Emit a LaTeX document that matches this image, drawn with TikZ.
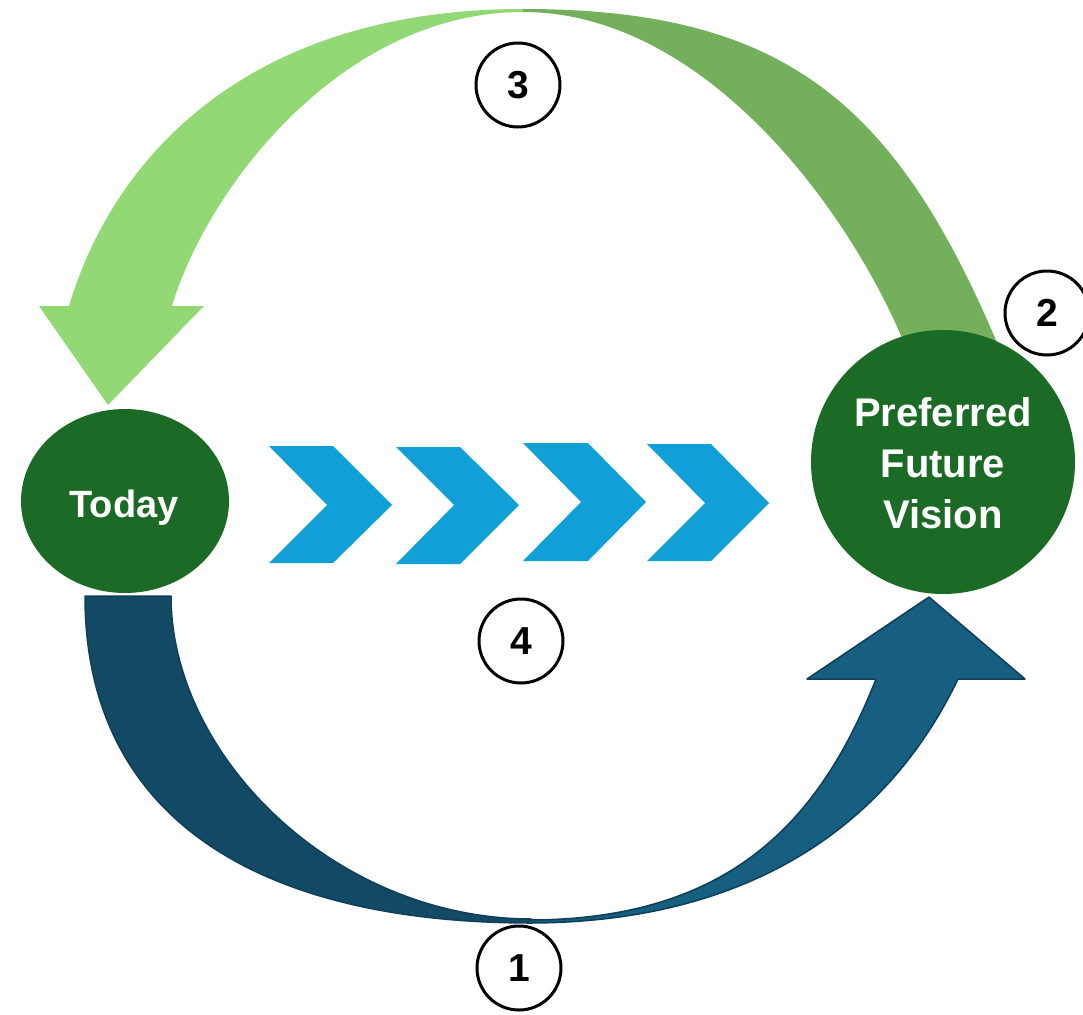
\documentclass[tikz,border=0pt]{standalone}
\usepackage{fontspec}
\setmainfont{Liberation Sans}
\usetikzlibrary{shapes.geometric}
\definecolor{lgreen}{RGB}{146,217,117}
\definecolor{mgreen}{RGB}{116,175,92}
\definecolor{dgreen}{RGB}{27,106,37}
\definecolor{bleft}{RGB}{18,74,102}
\definecolor{bright}{RGB}{23,95,128}
\definecolor{bline}{RGB}{14,62,88}
\definecolor{chev}{RGB}{17,159,215}
\begin{document}
\begin{tikzpicture}[x=1pt,y=-1pt,
  numcircle/.style={circle, draw=black, line width=3pt, fill=white, minimum size=84pt, inner sep=0pt,
    font=\bfseries\fontsize{39}{40}\selectfont},
  bluepart/.style={draw=bline, line width=1.5pt, line join=round},
  chevron/.style={fill=chev}]
\useasboundingbox (0,0) rectangle (1083,1014);
\clip (0,0) rectangle (1083,1014);

% green return arrow (3)
\fill[lgreen] (523,9) .. controls (253,9) and (115,152) .. (69,306) -- (39,306) -- (108,405) -- (204,306) -- (172,306)
  .. controls (208,186) and (343,12) .. (523,12) -- cycle;
\fill[mgreen] (523,9) .. controls (783,9) and (895,101) .. (998,345) -- (1000,372) -- (905,372) -- (905,345)
  .. controls (848,207) and (703,12) .. (523,12) -- cycle;

% blue arrow (1)
\filldraw[fill=bleft, bluepart] (85,596) -- (171,596) .. controls (171,756) and (335,919) .. (532,919)
  -- (532,923) .. controls (255,923) and (85,816) .. (85,596) -- cycle;
\filldraw[fill=bright, bluepart] (528,923) .. controls (750,923) and (888,825) .. (958,679) -- (1025,679) -- (929,597)
  -- (807,679) -- (876,679) .. controls (820,821) and (730,920) .. (528,920) -- cycle;

% chevrons (4)
\fill[chevron] (269,446) -- (333,446) -- (392,505) -- (333,563) -- (269,563) -- (327,505) -- cycle;
\fill[chevron] (396,447) -- (460,447) -- (519,505) -- (460,564) -- (396,564) -- (454,505) -- cycle;
\fill[chevron] (523,443) -- (588,443) -- (646,502) -- (588,561) -- (523,561) -- (581,502) -- cycle;
\fill[chevron] (647,444) -- (711,444) -- (769,503) -- (711,561) -- (647,561) -- (705,503) -- cycle;

% main nodes
\node[ellipse, fill=dgreen, minimum width=208pt, minimum height=184pt, inner sep=0pt] (today) at (125,501) {};
\node[anchor=base, text=white, font=\bfseries\fontsize{38}{40}\selectfont] (todaytxt) at (124,517) {Today};
\node[circle, fill=dgreen, minimum size=264pt, inner sep=0pt] (future) at (943,462) {};
\node[text=white, align=center, font=\bfseries\fontsize{40}{51}\selectfont] (futuretxt) at (943,463)
  {Preferred\\Future\\Vision};

% numbers
\node[numcircle] (n3) at (518,85) {3};
\node[numcircle] (n2) at (1047,313) {2};
\node[numcircle] (n4) at (521,641) {4};
\node[numcircle] (n1) at (519,968) {1};
\end{tikzpicture}
\end{document}
